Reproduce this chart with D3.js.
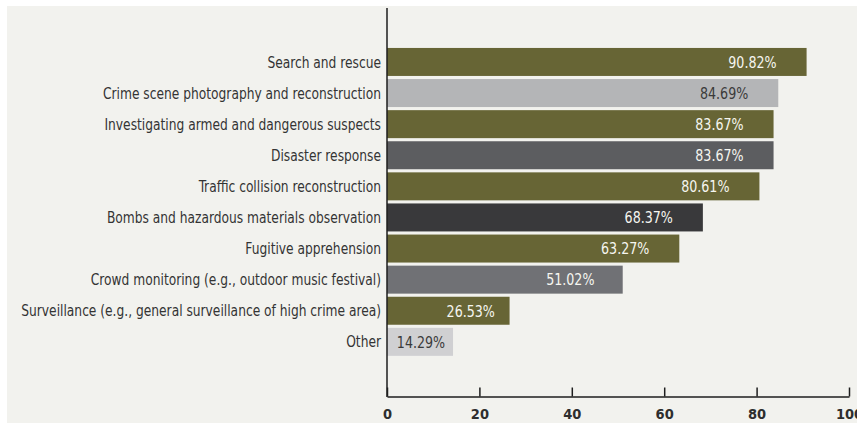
<!DOCTYPE html>
<html>
<head>
<meta charset="utf-8">
<script src="https://cdn.jsdelivr.net/npm/d3@7"></script>
<style>
    body { margin: 0; background: #ffffff; }
    svg { display: block; }
    .cat-label { font-family: "DejaVu Sans Condensed", "DejaVu Sans", sans-serif; font-stretch: condensed; font-size: 15.5px; fill: #343434; }
    .val-label { font-family: "DejaVu Sans Condensed", "DejaVu Sans", sans-serif; font-stretch: condensed; font-size: 16px; }
    .tick-label { font-family: "DejaVu Sans Condensed", "DejaVu Sans", sans-serif; font-stretch: condensed; font-weight: bold; font-size: 14.5px; fill: #2e2e2e; }
</style>
</head>
<body>
<div id="chart"></div>
<script>
// Chart data
const categories = [
    "Search and rescue",
    "Crime scene photography and reconstruction",
    "Investigating armed and dangerous suspects",
    "Disaster response",
    "Traffic collision reconstruction",
    "Bombs and hazardous materials observation",
    "Fugitive apprehension",
    "Crowd monitoring (e.g., outdoor music festival)",
    "Surveillance (e.g., general surveillance of high crime area)",
    "Other"
];
const values = [90.82, 84.69, 83.67, 83.67, 80.61, 68.37, 63.27, 51.02, 26.53, 14.29];
const barColors = ["#676535", "#b4b5b7", "#676535", "#5c5d60", "#676535",
                   "#39393b", "#676535", "#707175", "#676535", "#d0d0d2"];
const labelColors = ["#f6f6f0", "#3a3a3a", "#f6f6f0", "#f6f6f0", "#f6f6f0",
                     "#f6f6f0", "#f6f6f0", "#f6f6f0", "#f6f6f0", "#3a3a3a"];
const xTicks = [0, 20, 40, 60, 80, 100];

const width = 857, height = 423;
const squeeze = 0.88; // horizontal squeeze to mimic the condensed face
const data = categories.map((c, i) => ({ name: c, value: values[i], color: barColors[i], label: labelColors[i] }));

const svg = d3.select("#chart").append("svg")
    .attr("width", width)
    .attr("height", height);

// Panel background (white margin on top and left)
svg.append("rect")
    .attr("x", 7).attr("y", 6)
    .attr("width", width - 7).attr("height", height - 6)
    .attr("fill", "#f2f2ee");

const x = d3.scaleLinear().domain([0, 100]).range([387, 849]);
const y = d3.scaleBand()
    .domain(categories)
    .range([46.4, 357.4])
    .paddingInner(0.1)
    .paddingOuter(0.05);

// Bars
svg.append("g")
    .selectAll("rect")
    .data(data)
    .join("rect")
    .attr("x", x(0))
    .attr("y", d => y(d.name))
    .attr("width", d => x(d.value) - x(0))
    .attr("height", y.bandwidth())
    .attr("fill", d => d.color);

// Value labels inside bars
svg.append("g")
    .selectAll("text")
    .data(data)
    .join("text")
    .attr("class", "val-label")
    .attr("transform", d => {
        const tx = x(d.value) - Math.min(30, (x(d.value) - x(0)) * 0.12);
        return `translate(${tx},${y(d.name) + y.bandwidth() / 2}) scale(${squeeze},1)`;
    })
    .attr("dy", "0.36em")
    .attr("text-anchor", "end")
    .attr("fill", d => d.label)
    .text(d => d.value.toFixed(2) + "%");

// Category labels
svg.append("g")
    .selectAll("text")
    .data(data)
    .join("text")
    .attr("class", "cat-label")
    .attr("transform", d => `translate(${x(0) - 6},${y(d.name) + y.bandwidth() / 2}) scale(${squeeze},1)`)
    .attr("dy", "0.36em")
    .attr("text-anchor", "end")
    .text(d => d.name);

// Vertical axis line
svg.append("line")
    .attr("x1", x(0)).attr("x2", x(0))
    .attr("y1", 8).attr("y2", 397)
    .attr("stroke", "#1e1e1e")
    .attr("stroke-width", 1.5);

// Bottom axis
const xAxis = svg.append("g")
    .attr("transform", "translate(0,396.5)")
    .call(d3.axisBottom(x).tickValues(xTicks).tickSize(-9).tickSizeOuter(0).tickPadding(8));

xAxis.select(".domain").attr("stroke", "#1e1e1e").attr("stroke-width", 1.5);
xAxis.selectAll(".tick line").attr("stroke", "#1e1e1e").attr("stroke-width", 1.5);
xAxis.selectAll(".tick text")
    .attr("class", "tick-label")
    .attr("dy", "1.0em")
    .attr("fill", null);
</script>
</body>
</html>
